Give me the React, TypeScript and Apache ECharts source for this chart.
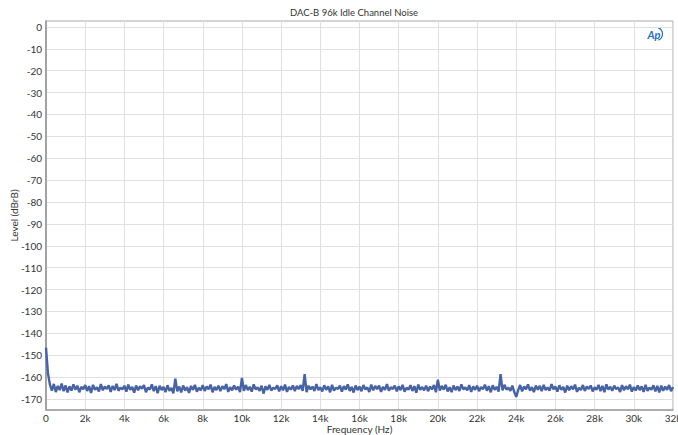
import React, { useEffect, useRef } from "react";
import * as echarts from "echarts";

const titleText = "DAC-B 96k Idle Channel Noise";
const xName = "Frequency (Hz)";
const yName = "Level (dBrB)";
const freqStep = 100; // Hz between successive level readings, starting at 0 Hz
const yTicks = [0, -10, -20, -30, -40, -50, -60, -70, -80, -90, -100, -110, -120, -130, -140, -150, -160, -170];

const levels = [
  -146.5, -158.2, -163.4, -166.2, -163.1, -166.8, -164.0, -165.9, -162.9, -166.4, -163.8, -167.0, -164.2, -166.1, -163.3, -165.7, -163.9, -166.9, -164.4, -165.5,
  -163.6, -166.3, -164.1, -167.2, -163.5, -165.8, -164.6, -166.5, -163.2, -166.0, -164.3, -165.4, -163.7, -166.7, -164.0, -165.9, -163.1, -166.2, -164.8, -165.6,
  -163.9, -166.6, -163.4, -165.8, -164.5, -167.1, -163.8, -166.0, -164.2, -165.3, -163.6, -166.9, -164.7, -165.7, -163.3, -166.4, -164.1, -167.3, -163.9, -165.9,
  -164.4, -166.8, -163.7, -166.2, -164.9, -167.4, -160.7, -166.5, -164.3, -167.0, -163.8, -166.1, -164.6, -167.2, -164.0, -165.8, -163.5, -166.6, -164.8, -166.0,
  -163.7, -166.3, -164.2, -165.6, -163.4, -166.9, -164.5, -165.9, -163.9, -166.4, -164.1, -165.5, -163.2, -166.7, -164.6, -166.0, -163.8, -165.7, -164.3, -166.8,
  -160.4, -166.2, -163.6, -165.9, -164.4, -166.6, -163.3, -165.6, -164.7, -166.3, -163.9, -167.5, -164.2, -165.8, -163.5, -166.1, -164.8, -165.4, -163.7, -166.5,
  -164.1, -166.0, -163.4, -166.7, -164.5, -165.7, -163.8, -166.4, -164.0, -165.5, -163.6, -166.2, -158.6, -166.8, -163.9, -165.6, -164.3, -166.3, -163.2, -165.9,
  -164.6, -166.5, -163.7, -165.8, -164.2, -166.9, -163.5, -166.1, -164.8, -165.4, -163.9, -166.6, -164.1, -165.7, -163.3, -166.3, -164.5, -167.0, -163.8, -165.9,
  -164.3, -166.4, -163.6, -165.6, -164.7, -166.8, -163.4, -166.0, -164.0, -165.5, -163.8, -166.7, -164.4, -165.8, -163.2, -166.2, -164.6, -165.4, -163.9, -166.5,
  -164.2, -165.9, -163.5, -166.6, -164.8, -165.7, -163.7, -166.3, -164.1, -167.1, -163.4, -165.8, -164.5, -166.0, -163.9, -166.4, -164.3, -165.6, -163.6, -166.9,
  -161.2, -166.1, -164.0, -165.7, -163.5, -166.5, -164.6, -166.8, -163.8, -165.9, -164.3, -166.3, -163.3, -165.6, -164.7, -166.0, -163.6, -166.7, -164.2, -165.8,
  -163.9, -166.4, -164.5, -165.5, -163.4, -166.2, -164.1, -166.9, -163.7, -165.8, -164.4, -166.6, -158.6, -166.0, -163.5, -165.7, -164.8, -166.3, -163.9, -166.8,
  -169.0, -165.9, -163.6, -166.5, -164.2, -165.6, -163.3, -166.1, -164.6, -166.8, -163.8, -165.7, -164.0, -166.4, -163.5, -165.9, -164.7, -166.2, -163.2, -165.5,
  -164.3, -166.6, -163.7, -165.8, -164.5, -167.0, -163.9, -166.0, -164.1, -165.6, -163.4, -166.7, -164.8, -165.9, -163.6, -166.3, -164.2, -165.4, -163.8, -166.5,
  -164.6, -165.8, -163.5, -166.4, -164.0, -166.9, -163.3, -165.7, -164.4, -166.2, -163.9, -165.5, -164.7, -166.8, -163.6, -166.0, -164.1, -165.6, -163.4, -166.6,
  -164.5, -166.1, -163.8, -165.9, -164.2, -166.7, -163.5, -166.3, -164.8, -165.7, -163.7, -166.5, -164.0, -167.0, -163.9, -166.2, -164.3, -165.8, -163.6, -166.4,
  -164.5,
];

const FONT = "Lato, 'Noto Sans', sans-serif";

export default function App() {
  const ref = useRef<HTMLDivElement>(null);
  useEffect(() => {
    if (!ref.current) return;
    const chart = echarts.init(ref.current, undefined, { renderer: "svg" });
    const data = levels.map((v, i) => [i * freqStep, v]);
    chart.setOption({
      animation: false,
      backgroundColor: "#ffffff",
      grid: {
        left: 46,
        right: 5,
        top: 21,
        bottom: 25,
        containLabel: false,
        outerBoundsMode: "none",
        show: true,
        borderColor: "#a8a8a8",
        borderWidth: 1,
        backgroundColor: "transparent",
      },
      graphic: [
        {
          type: "text",
          x: 354,
          y: 12,
          style: {
            text: titleText,
            fill: "#333333",
            font: `9.5px ${FONT}`,
            textAlign: "center",
            textVerticalAlign: "middle",
          },
        },
        {
          type: "text",
          x: 654,
          y: 34,
          style: {
            text: "Ap",
            fill: "#2a6fba",
            font: `italic bold 11px ${FONT}`,
            textAlign: "center",
            textVerticalAlign: "middle",
          },
        },
        {
          type: "arc",
          shape: { cx: 656, cy: 34, r: 6.5, startAngle: -Math.PI / 2.6, endAngle: Math.PI / 2.6 },
          style: { stroke: "#2a6fba", lineWidth: 1.2, fill: "none" },
        },
      ],
      xAxis: {
        type: "value",
        min: 0,
        max: 32000,
        interval: 2000,
        name: xName,
        nameLocation: "middle",
        nameGap: 13,
        nameMoveOverlap: false,
        nameTextStyle: { color: "#333333", fontSize: 10, lineHeight: 11, fontFamily: FONT },
        axisLine: { show: true, onZero: false, lineStyle: { color: "#a0a0a0", width: 1.5 } },
        axisTick: { show: false },
        axisLabel: {
          color: "#333333",
          fontSize: 10,
          lineHeight: 10,
          fontFamily: FONT,
          margin: 3,
          formatter: (v: number) => (v === 0 ? "0" : `${v / 1000}k`),
        },
        splitLine: { show: true, lineStyle: { color: "#e0e0e0", width: 1 } },
      },
      yAxis: {
        type: "value",
        min: -175,
        max: 2.7,
        name: yName,
        nameLocation: "middle",
        nameRotate: 90,
        nameGap: 27,
        nameMoveOverlap: false,
        nameTextStyle: { color: "#333333", fontSize: 10, fontFamily: FONT },
        axisLine: { show: true, onZero: false, lineStyle: { color: "#909090", width: 1.5 } },
        axisTick: { show: false, customValues: yTicks },
        axisLabel: {
          color: "#333333",
          fontSize: 10,
          fontFamily: FONT,
          margin: 4,
          customValues: yTicks,
        },
        splitLine: { show: true, lineStyle: { color: "#e0e0e0", width: 1 } },
      },
      series: [
        {
          type: "line",
          data,
          showSymbol: false,
          symbol: "none",
          lineStyle: { color: "#4763a3", width: 2.4 },
          clip: true,
        },
      ],
    });
    return () => chart.dispose();
  }, []);
  return (
    <div
      ref={ref}
      style={{ position: "fixed", left: 0, top: 0, width: 678, height: 435 }}
    />
  );
}
